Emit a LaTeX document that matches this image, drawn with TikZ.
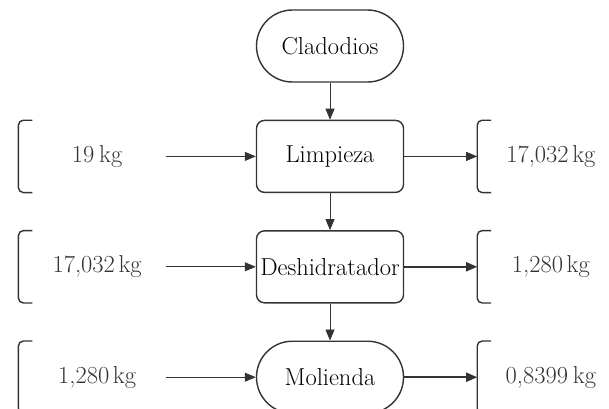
\documentclass[tikz,border=0pt]{standalone}
\usetikzlibrary{positioning,arrows.meta}

\definecolor{linegray}{HTML}{333333}
\definecolor{textgray}{HTML}{333333}

\tikzset{
  proc/.style={draw=linegray, line width=1.4pt, rounded corners=8pt, minimum width=147pt, minimum height=72pt, inner sep=0pt, font=\fontsize{24.5}{29}\selectfont},
  term/.style={proc, rounded corners=35.9pt},
  mass/.style={minimum width=147pt, minimum height=72pt, inner sep=0pt, text=textgray, font=\fontsize{24.5}{29}\selectfont},
  massin/.style={mass, execute at begin node=\hspace*{10pt}},
  flow/.style={draw=linegray, line width=0.8pt, -{Triangle[length=11pt,width=9pt]}},
  bigflow/.style={flow, line width=1.8pt},
  brk/.style={draw=linegray, line width=1.4pt, rounded corners=5pt}
}

\begin{document}
\begin{tikzpicture}[x=1pt, y=1pt]
    \useasboundingbox (0,0) rectangle (609,-408);

    \node (clad) at (330,-46) [term] {Cladodios};
    \node (limp) [proc, below=37pt of clad] {Limpieza};
    \node (desh) [proc, below=37pt of limp] {Deshidratador};
    \node (mol) [term, below=37pt of desh] {Molienda};

    \node (in1) [massin, left=90pt of limp] {19\kern0.2em kg};
    \node (in2) [massin, left=90pt of desh] {17,032\kern0.15em kg};
    \node (in3) [massin, left=90pt of mol] {1,280\kern0.15em kg};

    \node (out1) [mass, right=73pt of limp] {17,032\kern0.15em kg};
    \node (out2) [mass, right=73pt of desh] {1,280\kern0.15em kg};
    \node (out3) [mass, right=73pt of mol] {0,8399\kern0.2em kg};

    % brackets
    \foreach \n in {in1,in2,in3,out1,out2,out3}
      \draw[brk] ([xshift=14pt]\n.north west) -- (\n.north west) -- (\n.south west) -- ([xshift=14pt]\n.south west);

    \draw[flow] (clad) -- (limp);
    \draw[flow] (limp) -- (desh);
    \draw[flow] (desh) -- (mol);

    \draw[flow] (in1) -- (limp);
    \draw[flow] (in2) -- (desh);
    \draw[flow] (in3) -- (mol);

    \draw[flow] (limp) -- (out1);
    \draw[bigflow] (desh) -- (out2);
    \draw[bigflow] (mol) -- (out3);

\end{tikzpicture}
\end{document}
